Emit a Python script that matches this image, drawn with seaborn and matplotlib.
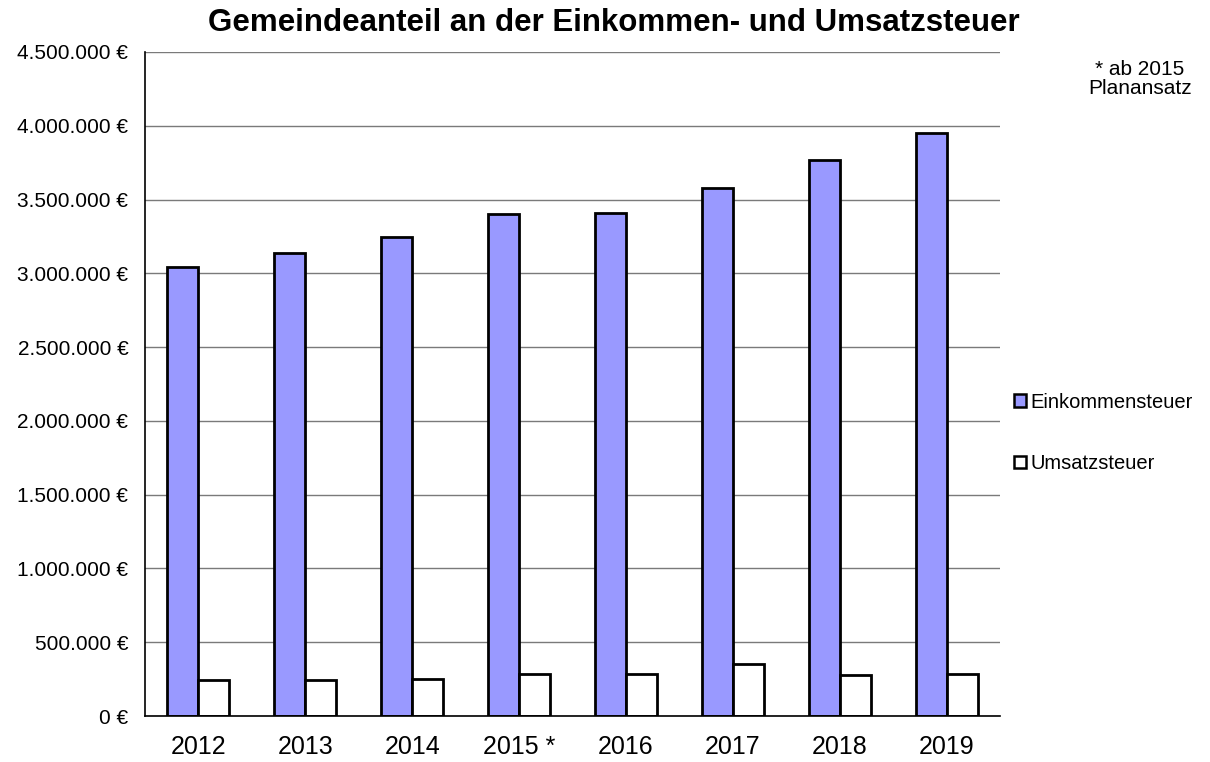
import pandas as pd
import matplotlib
matplotlib.use("Agg")
import matplotlib.pyplot as plt
import seaborn as sns
from matplotlib.ticker import FuncFormatter
from matplotlib.patches import Patch

# values
jahre = ["2012", "2013", "2014", "2015 *", "2016", "2017", "2018", "2019"]
einkommensteuer = [3040000, 3140000, 3243000, 3399000, 3412000, 3575000, 3765000, 3948000]
umsatzsteuer = [244000, 244000, 253000, 285000, 287000, 355000, 278000, 285000]

df = pd.DataFrame({
    "Jahr": jahre * 2,
    "Betrag": einkommensteuer + umsatzsteuer,
    "Steuer": ["Einkommensteuer"] * len(jahre) + ["Umsatzsteuer"] * len(jahre),
})

sns.set_style("white")
plt.rcParams["font.family"] = ["Liberation Sans", "DejaVu Sans"]
plt.rcParams["text.color"] = "black"
plt.rcParams["xtick.color"] = "black"
plt.rcParams["ytick.color"] = "black"

fig = plt.figure(figsize=(12.1, 7.62), dpi=100)
ax = fig.add_axes([145 / 1210, 1 - 716 / 762, 855 / 1210, 664 / 762])

sns.barplot(data=df, x="Jahr", y="Betrag", hue="Steuer",
            palette={"Einkommensteuer": "#9999FF", "Umsatzsteuer": "#FFFFFF"},
            edgecolor="black", linewidth=2, width=0.58, saturation=1,
            ax=ax, legend=False)

ax.set_ylim(0, 4500000)
ax.set_yticks(range(0, 4500001, 500000))
ax.yaxis.set_major_formatter(FuncFormatter(lambda v, p: f"{int(v):,} €".replace(",", ".")))
ax.grid(axis="y", color="#7a7a7a", linewidth=1)
ax.set_axisbelow(True)
ax.set_xlabel("")
ax.set_ylabel("")
ax.tick_params(axis="y", labelsize=15, length=0, pad=12)
ax.tick_params(axis="x", labelsize=18, length=0, pad=14)

for side in ["top", "right"]:
    ax.spines[side].set_visible(False)
for side in ["left", "bottom"]:
    ax.spines[side].set_color("black")
    ax.spines[side].set_linewidth(1.2)

fig.text(614 / 1210, 1 - 23 / 762, "Gemeindeanteil an der Einkommen- und Umsatzsteuer",
         ha="center", va="center", fontsize=22.5, fontweight="bold")
fig.text(1140 / 1210, 1 - 79 / 762, "* ab 2015\nPlanansatz",
         ha="center", va="center", fontsize=15, linespacing=1.0)

# legend
handles = [Patch(facecolor="#9999FF", edgecolor="black", linewidth=1.8),
           Patch(facecolor="white", edgecolor="black", linewidth=1.8)]
fig.legend(handles, ["Einkommensteuer", "Umsatzsteuer"],
           loc="center left", bbox_to_anchor=(996 / 1210, 1 - 433 / 762),
           frameon=False, fontsize=14.5, handlelength=0.6, handleheight=0.6,
           handletextpad=0.2, labelspacing=2.1)

fig.savefig("out.png", dpi=100)
